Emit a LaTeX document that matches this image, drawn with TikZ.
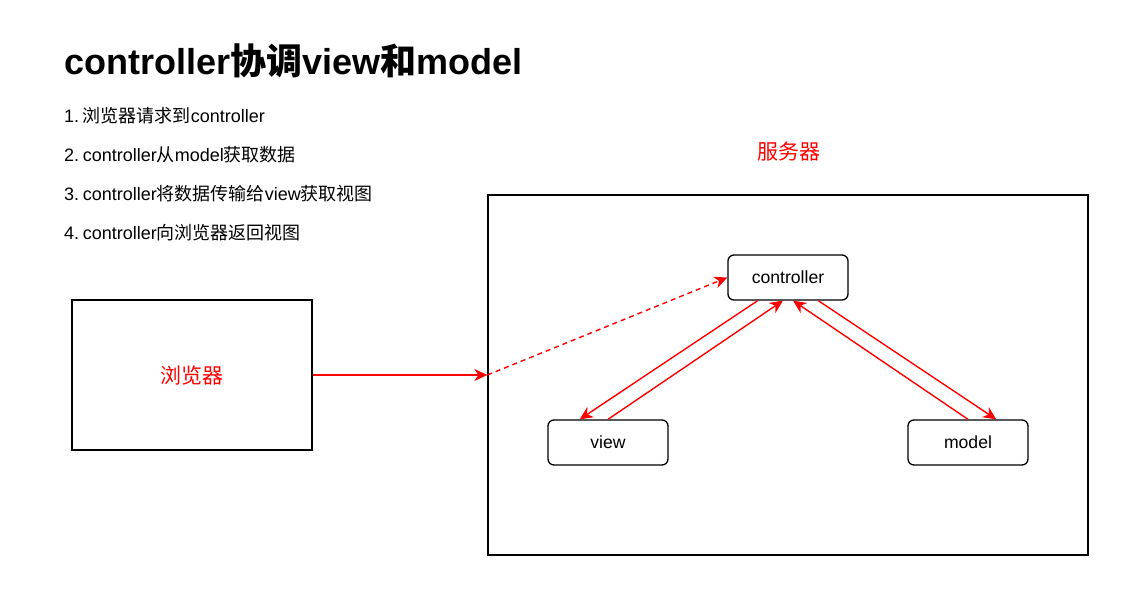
\documentclass[tikz,border=0pt]{standalone}
\usepackage{fontspec}
\setmainfont{Liberation Sans}
\newfontfamily\cjk{Noto Sans CJK SC}
\usetikzlibrary{arrows.meta,calc}
\tikzset{
  box/.style={draw=black, line width=1.3pt, fill=white, inner sep=0pt},
  rbox/.style={box, rounded corners=6pt, minimum width=120pt, minimum height=45pt, font=\fontsize{17.6}{20}\selectfont},
  redline/.style={draw=red, line width=1.4pt},
  redtip/.style={-{Stealth[length=13pt,width=12pt,inset=4pt]}},
  listtext/.style={anchor=west, inner sep=0pt, font=\fontsize{18}{20}\selectfont},
  redlabel/.style={text=red, inner sep=0pt, font=\cjk\fontsize{21}{24}\selectfont}
}
\begin{document}
\begin{tikzpicture}[x=1pt,y=-1pt]
\useasboundingbox[fill=white] (0,0) rectangle (1130,601);
% title
\node[anchor=west, inner sep=0pt, font=\bfseries\fontsize{36}{40}\selectfont] (title) at (64,61) {controller{\cjk 协调}view{\cjk 和}model};
% list
\node[listtext] (l1) at (64,116) {1.\hspace{0.2em}{\cjk 浏览器请求到}controller};
\node[listtext] (l2) at (64,155) {2.\hspace{0.2em}controller{\cjk 从}model{\cjk 获取数据}};
\node[listtext] (l3) at (64,194) {3.\hspace{0.2em}controller{\cjk 将数据传输给}view{\cjk 获取视图}};
\node[listtext] (l4) at (64,233) {4.\hspace{0.2em}controller{\cjk 向浏览器返回视图}};
% boxes
\node[box, minimum width=240pt, minimum height=150pt] (browser) at (192,375) {};
\node[redlabel] (browserlabel) at (192,376) {浏览器};
\node[box, minimum width=600pt, minimum height=360pt] (server) at (788,375) {};
\node[redlabel] (serverlabel) at (789,152) {服务器};
\node[rbox] (ctrl) at (788,277.5) {controller};
\node[rbox] (view) at (608,442.5) {view};
\node[rbox] (model) at (968,442.5) {model};
% connectors
\draw[redline, redtip] (browser.east) -- (server.west);
\draw[redline, redtip, dash pattern=on 5pt off 4pt] (server.west) -- (ctrl.west);
\draw[redline, redtip] ($(ctrl.south west)!0.25!(ctrl.south east)$) -- ($(view.north west)!0.267!(view.north east)$);
\draw[redline, redtip] (view.north) -- ($(ctrl.south west)!0.458!(ctrl.south east)$);
\draw[redline, redtip] ($(ctrl.south west)!0.75!(ctrl.south east)$) -- ($(model.north west)!0.733!(model.north east)$);
\draw[redline, redtip] (model.north) -- ($(ctrl.south west)!0.542!(ctrl.south east)$);
\end{tikzpicture}
\end{document}
